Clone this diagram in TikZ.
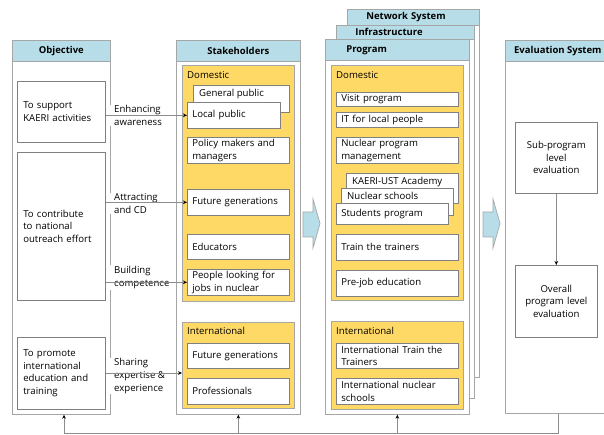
\documentclass[tikz,border=0pt]{standalone}
\usepackage{fontspec}
\setmainfont{Open Sans}
\usetikzlibrary{arrows.meta}
\definecolor{hdrcyan}{HTML}{B7DEE8}
\definecolor{gold}{HTML}{FFD966}
\definecolor{rimgray}{HTML}{A6A6A6}
\definecolor{boxgray}{HTML}{808080}
\definecolor{wiregray}{HTML}{8C8C8C}

\begin{document}
\begin{tikzpicture}[x=1pt,y=-1pt,
  txt/.style={font=\fontsize{9.6}{12.6}\selectfont},
  panel/.style={draw=rimgray, line width=0.7pt, fill=white, anchor=north west, inner sep=0pt},
  hdr/.style={panel, fill=hdrcyan, font=\fontsize{9.5}{11}\selectfont\bfseries},
  hl/.style={hdr, inner xsep=19pt, align=left},
  band/.style={draw=rimgray, line width=0.7pt, fill=gold, anchor=north west, inner sep=0pt},
  wbox/.style={draw=boxgray, line width=0.6pt, fill=white, anchor=north west, inner xsep=5pt, inner ysep=0pt, align=left, txt},
  cbox/.style={draw=boxgray, line width=0.6pt, fill=white, anchor=north west, inner sep=2pt, align=center, txt},
  toplbl/.style={txt, anchor=north west, inner sep=0pt, xshift=6pt, yshift=-4pt},
  sect/.style={txt, anchor=west, inner sep=0pt},
  why/.style={fill=white, anchor=west, inner xsep=6pt, inner ysep=1pt, align=left, txt},
  conn/.style={draw=wiregray, line width=0.7pt, -{Stealth[length=4pt,width=3.6pt,color=black]}},
  wire/.style={draw=wiregray, line width=0.7pt},
  blockarrow/.style={draw=rimgray, line width=0.7pt, fill=hdrcyan}
]
\useasboundingbox (0,0) rectangle (604,435);

% ---------- Objective ----------
\node[panel, minimum width=98, minimum height=374] (objcol) at (12,40) {};
\node[hdr, minimum width=98, minimum height=21] (objhdr) at (12,40) {Objective};
\node[wbox, inner xsep=6pt, minimum width=88, minimum height=61, text width=76] (obj1) at (17,81) {To support\\KAERI activities};
\node[wbox, inner xsep=6pt, minimum width=88, minimum height=148, text width=76] (obj2) at (17,152) {To contribute\\to national\\outreach effort};
\node[wbox, inner xsep=6pt, minimum width=88, minimum height=72, text width=76] (obj3) at (17,337) {To promote\\international\\education and\\training};

% ---------- Stakeholders ----------
\node[panel, minimum width=124, minimum height=374] (stkcol) at (176,40) {};
\node[hdr, minimum width=124, minimum height=21] (stkhdr) at (176,40) {Stakeholders};
\node[band, minimum width=112, minimum height=236] (stkdom) at (182,65) {};
\node[sect] (stkdomlbl) at (187,75) {Domestic};
\node[wbox, minimum width=96, minimum height=27, label={[toplbl]north west:General public}] (genpub) at (193,85) {};
\node[wbox, minimum width=93, minimum height=26, text width=83] (locpub) at (187,102) {Local public};
\node[wbox, minimum width=102, minimum height=26, text width=92] (policy) at (187,137) {Policy makers and\\managers};
\node[wbox, minimum width=102, minimum height=26, text width=92] (futgen) at (187,189) {Future generations};
\node[wbox, minimum width=102, minimum height=25, text width=92] (educ) at (187,234) {Educators};
\node[wbox, minimum width=102, minimum height=26, text width=92] (jobs) at (187,269) {People looking for\\jobs in nuclear};
\node[band, minimum width=112, minimum height=86] (stkint) at (182,322) {};
\node[sect] (stkintlbl) at (187,331) {International};
\node[wbox, minimum width=102, minimum height=25, text width=92] (futgen2) at (187,343) {Future generations};
\node[wbox, minimum width=102, minimum height=26, text width=92] (prof) at (187,378) {Professionals};

% ---------- Program stack ----------
\node[panel, minimum width=132, minimum height=368] (netpage) at (347,9) {};
\node[hl, minimum width=132, minimum height=16, text width=94] (nethdr) at (347,9) {Network System};
\node[panel, minimum width=138, minimum height=373] (infpage) at (336,25) {};
\node[hl, minimum width=138, minimum height=14, text width=100] (infhdr) at (336,25) {Infrastructure};
\node[panel, minimum width=144, minimum height=375] (prgpage) at (325,39) {};
\node[hl, inner xsep=21pt, minimum width=144, minimum height=21, text width=102] (prghdr) at (325,39) {Program};

\node[band, minimum width=132, minimum height=235] (prgdom) at (331,65) {};
\node[sect] (prgdomlbl) at (336,75) {Domestic};
\node[wbox, minimum width=122, minimum height=14, text width=112] (visit) at (336,92) {Visit program};
\node[wbox, minimum width=122, minimum height=15, text width=112] (itlocal) at (336,112) {IT for local people};
\node[wbox, minimum width=122, minimum height=26, text width=112] (npm) at (336,137) {Nuclear program\\management};
\node[wbox, minimum width=112, minimum height=30, label={[toplbl]north west:KAERI-UST Academy}] (kaeri) at (346,173) {};
\node[wbox, minimum width=112, minimum height=27, label={[toplbl]north west:Nuclear schools}] (nschools) at (341,188) {};
\node[wbox, minimum width=112, minimum height=21, text width=102] (students) at (336,203) {Students program};
\node[wbox, minimum width=122, minimum height=26, text width=112] (train) at (336,234) {Train the trainers};
\node[wbox, minimum width=122, minimum height=26, text width=112] (prejob) at (336,270) {Pre-job education};
\node[band, minimum width=132, minimum height=88] (prgint) at (331,321) {};
\node[sect] (prgintlbl) at (336,331) {International};
\node[wbox, minimum width=122, minimum height=25, text width=112] (itt) at (336,343) {International Train the\\Trainers};
\node[wbox, minimum width=122, minimum height=26, text width=112] (ins) at (336,378) {International nuclear\\schools};

% ---------- Evaluation ----------
\node[panel, minimum width=105, minimum height=373] (evcol) at (505,40) {};
\node[hdr, minimum width=105, minimum height=21] (evhdr) at (505,40) {Evaluation System};
\node[cbox, minimum width=82, minimum height=71, text width=78] (sub) at (515,122) {Sub-program\\level\\evaluation};
\node[cbox, minimum width=82, minimum height=72, text width=78] (overall) at (515,265) {Overall\\program level\\evaluation};
\draw[conn] (sub) -- (overall);

% ---------- block arrows between columns ----------
\draw[blockarrow] (303,212) -- (313,212) -- (313,199) -- (320,223.5) -- (313,248) -- (313,237) -- (303,237) -- cycle;
\draw[blockarrow] (483,212) -- (493,212) -- (493,199) -- (500,223.5) -- (493,248) -- (493,237) -- (483,237) -- cycle;

% ---------- objective -> stakeholder links ----------
\node[why] (lab1) at (108,115.5) {Enhancing\\awareness};
\node[why] (lab2) at (108,203.5) {Attracting\\and CD};
\node[why] (lab3) at (108,277.5) {Building\\competence};
\node[why] (lab4) at (108,376) {Sharing\\expertise \&\\experience};
\draw[conn] (obj1.east |- locpub.west) -- (locpub.west);
\draw[conn] (obj2.east |- futgen.west) -- (futgen.west);
\draw[conn] (obj2.east |- jobs.west) -- (jobs.west);
\draw[conn] (obj3.east |- 0,373) -- (stkint.west |- 0,373);

% ---------- feedback loop ----------
\coordinate (fbL) at (64,433);
\draw[wire] (evcol.south) |- (fbL);
\draw[conn] (fbL) -- (fbL |- objcol.south);
\draw[conn] (stkcol.south |- fbL) -- (stkcol.south);
\draw[conn] (prgpage.south |- fbL) -- (prgpage.south);
\end{tikzpicture}
\end{document}
